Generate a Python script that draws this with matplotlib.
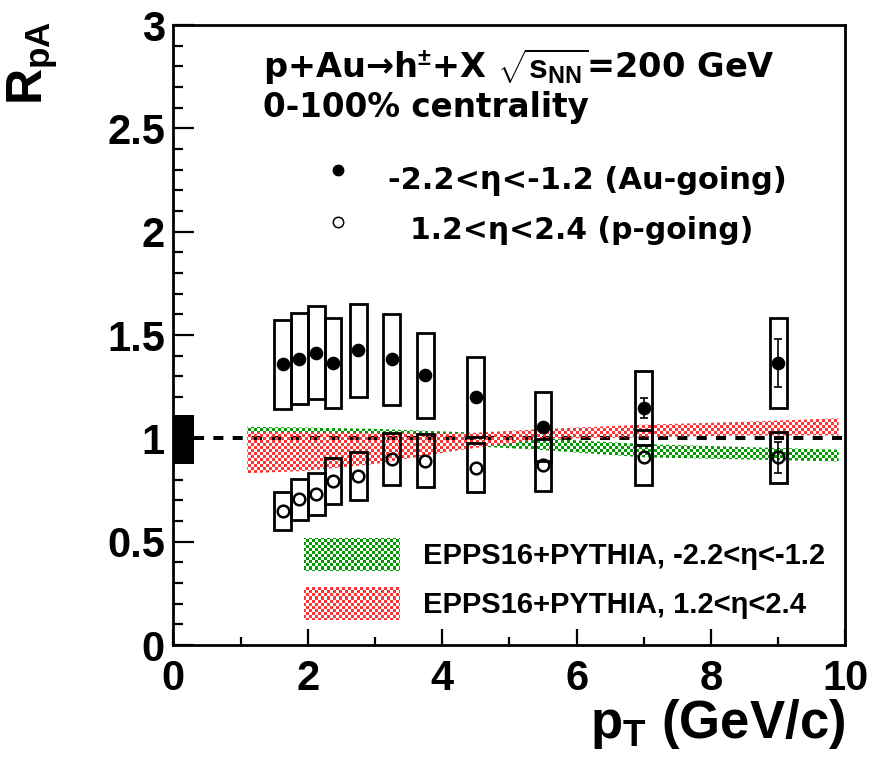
import numpy as np
import matplotlib
matplotlib.use('Agg')
import matplotlib.pyplot as plt
from matplotlib.patches import Rectangle, Polygon
from matplotlib.colors import to_rgba
from matplotlib.ticker import MultipleLocator

plt.rcParams['font.family'] = ['Liberation Sans', 'DejaVu Sans']
plt.rcParams['font.weight'] = 'bold'
plt.rcParams['mathtext.fontset'] = 'custom'
plt.rcParams['mathtext.rm'] = 'Liberation Sans:bold'
plt.rcParams['mathtext.it'] = 'Liberation Sans:bold'
plt.rcParams['mathtext.bf'] = 'Liberation Sans:bold'

# --- pT bins (GeV/c) ---
pt = [1.625, 1.875, 2.125, 2.375, 2.75, 3.25, 3.75, 4.5, 5.5, 7.0, 9.0]

# --- Au-going, -2.2<eta<-1.2 ---
r_au = [1.359, 1.385, 1.414, 1.366, 1.426, 1.382, 1.305, 1.201, 1.056, 1.148, 1.363]
stat_au = [0.01, 0.01, 0.01, 0.01, 0.01, 0.012, 0.015, 0.02, 0.025, 0.048, 0.116]
sys_au = [0.215, 0.220, 0.225, 0.217, 0.225, 0.220, 0.207, 0.195, 0.168, 0.180, 0.218]

# --- p-going, 1.2<eta<2.4 ---
r_p = [0.648, 0.705, 0.729, 0.793, 0.819, 0.900, 0.892, 0.858, 0.871, 0.908, 0.908]
stat_p = [0.01, 0.01, 0.01, 0.01, 0.01, 0.01, 0.01, 0.015, 0.02, 0.03, 0.074]
sys_p = [0.091, 0.098, 0.102, 0.110, 0.115, 0.127, 0.127, 0.118, 0.124, 0.132, 0.124]

# --- EPPS16+PYTHIA bands ---
epps_pt = [1.1, 2.0, 3.0, 4.3, 5.5, 7.0, 8.5, 9.9]
epps_au_hi = [1.056, 1.052, 1.046, 1.030, 1.000, 0.972, 0.958, 0.945]
epps_au_lo = [1.000, 0.995, 0.990, 0.965, 0.943, 0.908, 0.898, 0.888]
epps_p_hi = [1.032, 1.030, 1.026, 1.024, 1.045, 1.066, 1.080, 1.097]
epps_p_lo = [0.831, 0.843, 0.876, 0.945, 0.998, 1.005, 1.014, 1.014]

# global normalisation uncertainty
norm_lo, norm_hi = 0.875, 1.113

box_w = 0.25
norm_w = 0.31
green = '#009a00'
red = '#ff3535'

fig = plt.figure(figsize=(8.71, 7.6), dpi=100)
ax = fig.add_axes([0.199, 0.1513, 0.7717, 0.8158])


def checker(patch, color, cell=3):
    # checkerboard fill pattern clipped to a patch
    nx, ny = 672 // cell, 620 // cell
    ii, jj = np.indices((ny, nx))
    img = np.zeros((ny, nx, 4))
    img[(ii + jj) % 2 == 0] = to_rgba(color)
    im = ax.imshow(img, extent=(0, 10, 0, 3), origin='lower', aspect='auto',
                   interpolation='nearest', zorder=2)
    im.set_clip_path(patch)


# dashed line at unity
ax.plot([norm_w, 10], [1, 1], color='k', lw=2.9, ls=(0, (2.5, 2.3)), zorder=1)

# theory bands
for lo, hi, col in [(epps_au_lo, epps_au_hi, green), (epps_p_lo, epps_p_hi, red)]:
    verts = list(zip(epps_pt, hi)) + list(zip(epps_pt[::-1], lo[::-1]))
    poly = Polygon(verts, closed=True, fill=False, lw=0)
    ax.add_patch(poly)
    checker(poly, col)

# normalisation box
ax.add_patch(Rectangle((0, norm_lo), norm_w, norm_hi - norm_lo, color='k', lw=0, zorder=3))

# systematic boxes
for x, r, s in zip(pt, r_au, sys_au):
    ax.add_patch(Rectangle((x - box_w / 2, r - s), box_w, 2 * s, fill=False,
                           ec='k', lw=2.0, zorder=4))
for x, r, s in zip(pt, r_p, sys_p):
    ax.add_patch(Rectangle((x - box_w / 2, r - s), box_w, 2 * s, fill=False,
                           ec='k', lw=2.0, zorder=4))

# statistical bars (only those sticking out of the marker are drawn)
for r, st in [(r_au, stat_au), (r_p, stat_p)]:
    idx = [i for i, e in enumerate(st) if e > 0.03]
    ax.errorbar([pt[i] for i in idx], [r[i] for i in idx], yerr=[st[i] for i in idx],
                fmt='none', ecolor='k', elinewidth=1.2, capsize=2.6, capthick=1.2, zorder=5)

# data points
ax.plot(pt, r_au, 'o', color='k', ms=8.8, zorder=6)
ax.plot(pt, r_p, 'o', color='k', mfc='none', ms=8.4, mew=1.8, zorder=6)

ax.set_xlim(0, 10)
ax.set_ylim(0, 3)
ax.xaxis.set_major_locator(MultipleLocator(2))
ax.xaxis.set_minor_locator(MultipleLocator(1))
ax.yaxis.set_minor_locator(MultipleLocator(0.1))
ax.set_yticks([0, 0.5, 1, 1.5, 2, 2.5, 3])
ax.set_yticklabels(['0', '0.5', '1', '1.5', '2', '2.5', '3'])
ax.tick_params(which='both', direction='in', top=False, right=False, width=1.6)
ax.tick_params(axis='y', which='major', length=15, pad=6, labelsize=30)
ax.tick_params(axis='y', which='minor', length=7.5)
ax.tick_params(axis='x', which='major', length=11.5, pad=10, labelsize=30)
ax.tick_params(axis='x', which='minor', length=6)
for sp in ax.spines.values():
    sp.set_linewidth(2.0)

# axis titles
fig.text(845 / 871, 1 - 738 / 760, r'p$_{T}$ (GeV/c)', ha='right', va='baseline', fontsize=38)
fig.text(33 / 871, 1 - 21 / 760, r'R$_{pA}$', ha='center', va='top', rotation=90, fontsize=36)

# header and marker legend
hfont = dict(family='DejaVu Sans', weight='bold', transform=ax.transAxes, va='baseline')
ax.text(0.1334, 0.915, r'p+Au→h$^{\pm}$+X $\sqrt{s_{NN}}$=200 GeV', fontsize=24.2, **hfont)
ax.text(0.1334, 0.852, '0-100% centrality', fontsize=23.5, **hfont)
ax.plot([0.2455], [0.766], 'o', color='k', ms=7.5, transform=ax.transAxes, clip_on=False)
ax.plot([0.2455], [0.683], 'o', color='k', mfc='none', ms=7.5, mew=1.1,
        transform=ax.transAxes, clip_on=False)
ax.text(0.320, 0.7355, '-2.2<η<-1.2 (Au-going)', fontsize=22, **hfont)
ax.text(0.352, 0.655, '1.2<η<2.4 (p-going)', fontsize=21.5, **hfont)

# model legend
for yb, col, lab in [(0.119, green, 'EPPS16+PYTHIA, -2.2<η<-1.2'),
                     (0.0403, red, 'EPPS16+PYTHIA, 1.2<η<2.4')]:
    rect = Rectangle((0.194, yb), 0.1425, 0.054, transform=ax.transAxes, fill=False, lw=0)
    ax.add_patch(rect)
    checker(rect, col)
    ax.text(0.371, yb + 0.012, lab, transform=ax.transAxes, fontsize=21, va='baseline')

fig.savefig('out.png', dpi=100)
